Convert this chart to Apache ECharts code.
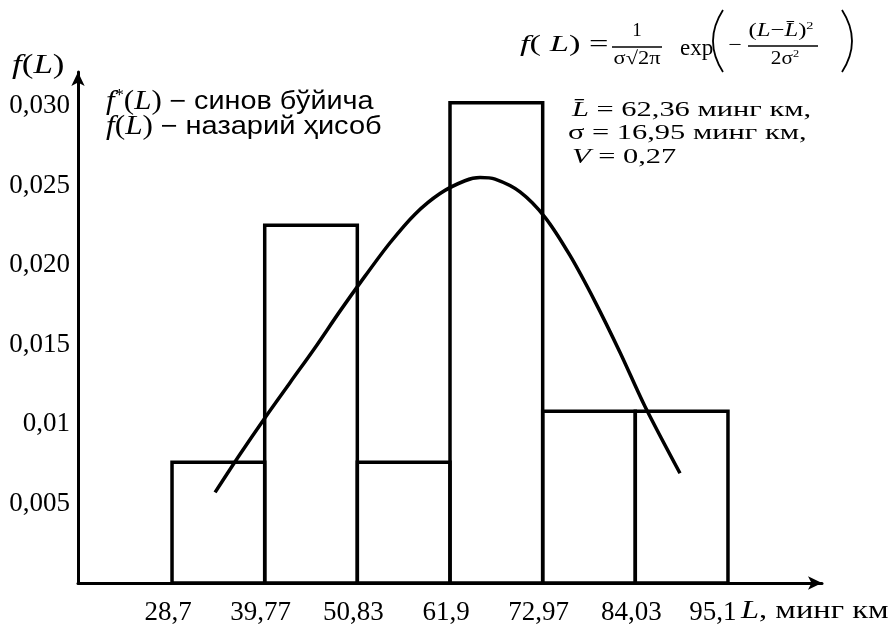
<!DOCTYPE html>
<html>
<head>
<meta charset="utf-8">
<script src="https://cdn.jsdelivr.net/npm/echarts@6/dist/echarts.min.js"></script>
<style>
    html, body { margin: 0; padding: 0; background: #fff; }
    #chart_hist { width: 894px; height: 628px; }
</style>
</head>
<body>
<div id="chart_hist"></div>
<script>
// интервал чегаралари (минг км)
var binEdges = [28.7, 39.77, 50.83, 61.9, 72.97, 84.03, 95.1];
var edgeLabels = ['28,7', '39,77', '50,83', '61,9', '72,97', '84,03', '95,1'];
// f*(L) - синов бўйича (устунлар баландлиги)
var binHeights = [0.0076, 0.0225, 0.0076, 0.0302, 0.0108, 0.0108];
// f(L) - назарий ҳисоб (расмдан олинган нуқталар)
var curveL = [33.84, 36.82, 39.81, 42.79, 45.78, 48.76, 51.75, 54.74, 57.72, 60.71, 63.69, 65.49, 67.28, 70.26, 73.25, 76.23, 79.22, 82.21, 85.19, 89.37];
var curveF = [0.0057, 0.0081, 0.0104, 0.0126, 0.0148, 0.0171, 0.0193, 0.0214, 0.0232, 0.0245, 0.0253, 0.0255, 0.0254, 0.0246, 0.0230, 0.0206, 0.0177, 0.0145, 0.0111, 0.0069];
// y ўқи белгилари
var yTicks = [0.005, 0.01, 0.015, 0.02, 0.025, 0.03];
var yTickLabels = ['0,005', '0,01', '0,015', '0,020', '0,025', '0,030'];

var serif = 'Liberation Serif';
var sans = 'Liberation Sans';

var bars = [];
for (var i = 0; i < binHeights.length; i++) {
    bars.push([binEdges[i], binEdges[i + 1], binHeights[i]]);
}
var curve = [];
for (var j = 0; j < curveL.length; j++) {
    curve.push([curveL[j], curveF[j]]);
}

function txt(left, top, text, size, sx, rich, align, family) {
    return {
        type: 'text', x: left, y: top, scaleX: sx || 1,
        style: {
            text: text, fill: '#000', fontFamily: family || serif, fontSize: size,
            align: align || 'left', verticalAlign: 'middle', rich: rich || {}
        }
    };
}
function hline(x1, x2, y, w) {
    return { type: 'line', shape: { x1: x1, y1: y, x2: x2, y2: y }, style: { stroke: '#000', lineWidth: w || 1.3 } };
}
function paren(x, dx) {
    return {
        type: 'bezierCurve',
        shape: { x1: x, y1: 10, x2: x, y2: 72, cpx1: x + dx, cpy1: 41 },
        style: { stroke: '#000', lineWidth: 1.8, fill: 'none' }
    };
}
function richSet(size) {
    return {
        i: { fontStyle: 'italic', fontFamily: serif, fontSize: size },
        s: { fontFamily: serif, fontSize: Math.round(size * 0.6), padding: [0, 0, Math.round(size * 0.45), 0] },
        c: { fontFamily: sans, fontSize: 25 }
    };
}

var myChart = echarts.init(document.getElementById('chart_hist'));

var option = {
    animation: false,
    backgroundColor: '#fff',
    grid: { left: 78, right: 72, top: 72, bottom: 45 },
    xAxis: {
        type: 'value',
        min: 17.47,
        max: 106.33,
        splitLine: { show: false },
        axisTick: { show: false },
        axisLine: {
            onZero: false,
            lineStyle: { color: '#000', width: 3 },
            symbol: ['none', 'arrow'],
            symbolSize: [10, 14]
        },
        axisLabel: {
            customValues: binEdges,
            margin: 16,
            color: '#000',
            fontFamily: serif,
            fontSize: 27,
            padding: [0, 8, 0, 0],
            formatter: function (v) {
                var k = binEdges.indexOf(v);
                if (k < 0) return '';
                return k === binEdges.length - 1 ? '{last|' + edgeLabels[k] + '}' : edgeLabels[k];
            },
            rich: {
                last: { fontFamily: serif, fontSize: 27, color: '#000', padding: [0, 22, 0, 0] }
            }
        }
    },
    yAxis: {
        type: 'value',
        min: 0,
        max: 0.03214,
        splitLine: { show: false },
        axisTick: { show: false },
        axisLine: {
            show: true,
            lineStyle: { color: '#000', width: 3 },
            symbol: ['none', 'arrow'],
            symbolSize: [10, 14]
        },
        axisLabel: {
            customValues: yTicks,
            margin: 8,
            color: '#000',
            fontFamily: serif,
            fontSize: 27,
            formatter: function (v) {
                var k = yTicks.indexOf(v);
                return k >= 0 ? yTickLabels[k] : '';
            }
        }
    },
    series: [
        {
            name: 'f*(L)',
            type: 'custom',
            data: bars,
            encode: { x: [0, 1], y: 2 },
            renderItem: function (params, api) {
                var p0 = api.coord([api.value(0), 0]);
                var p1 = api.coord([api.value(1), api.value(2)]);
                return {
                    type: 'rect',
                    shape: { x: p0[0], y: p1[1], width: p1[0] - p0[0], height: p0[1] - p1[1] },
                    style: { fill: 'none', stroke: '#000', lineWidth: 3.5 }
                };
            },
            z: 2
        },
        {
            name: 'f(L)',
            type: 'line',
            data: curve,
            smooth: 0.3,
            symbol: 'none',
            lineStyle: { color: '#000', width: 3.5 },
            z: 3
        }
    ],
    graphic: {
        elements: [
            // y ўқи номи
            txt(12, 66, '{i|f}({i|L})', 28, 1.25, richSet(28)),
            // x ўқи номи
            txt(741, 611, '{i|L}, минг км', 25, 1.3, richSet(25)),
            // изоҳлар
            txt(106, 102, '{i|f}{s|*}({i|L}) {c|−} {c|синов бўйича}', 27, 1.15, richSet(27)),
            txt(106, 127, '{i|f}({i|L}) {c|−} {c|назарий ҳисоб}', 27, 1.16, richSet(27)),
            // формула
            txt(520, 45, '{i|f}( {i|L}) =', 23, 1.5, richSet(23)),
            txt(637, 31, '1', 19, 1, null, 'center'),
            hline(612, 662, 47),
            txt(637, 59, 'σ√2π', 19, 1.18, null, 'center'),
            txt(680, 49, 'exp', 23, 1),
            paren(723, -20),
            txt(735, 46, '−', 20, 1.2, null, 'center'),
            txt(781, 31, '({i|L}−{i|L̄}){s|2}', 19, 1.3, richSet(19), 'center'),
            hline(748, 818, 46),
            txt(785, 59, '2σ{s|2}', 19, 1.12, richSet(19), 'center'),
            paren(842, 20),
            // параметрлар
            txt(572, 110, '{i|L̄} = 62,36 минг км,', 21, 1.45, richSet(21)),
            txt(568, 133, 'σ = 16,95 минг км,', 21, 1.45, richSet(21)),
            txt(572, 157, '{i|V} = 0,27', 21, 1.45, richSet(21))
        ]
    }
};
myChart.setOption(option);
</script>
</body>
</html>
